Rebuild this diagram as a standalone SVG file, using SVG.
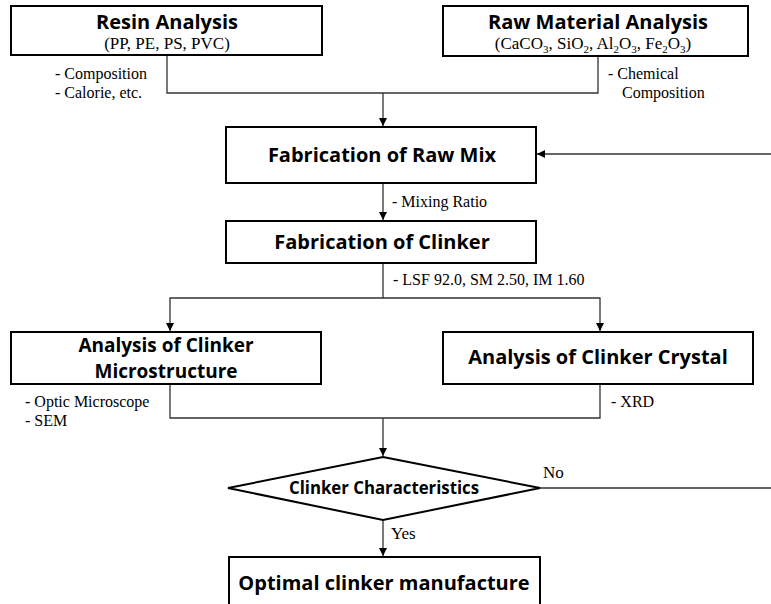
<svg xmlns="http://www.w3.org/2000/svg" width="771" height="604" viewBox="0 0 771 604">
<defs>
<marker id="arr" markerWidth="10" markerHeight="10" refX="9" refY="5" orient="auto" markerUnits="userSpaceOnUse">
<path d="M1,1 L9,5 L1,9 Z" fill="#000"/>
</marker>
<style>
.box{fill:#fff;stroke:#000;stroke-width:2}
.h{font-family:"Open Sans","Noto Sans",sans-serif;font-weight:700;font-size:20px;fill:#000;text-anchor:middle}
.s{font-family:"Liberation Serif","Times New Roman",serif;font-size:17px;fill:#000;text-anchor:middle}
.t{font-family:"Liberation Serif","Times New Roman",serif;font-size:16px;fill:#000}
.c{stroke:#333;stroke-width:1.3;fill:none}
</style>
</defs>
<rect width="771" height="604" fill="#fff"/>
<g id="connectors">
<path class="c" d="M167,56 V93 H598 V56"/>
<path class="c" d="M383,93 V126" marker-end="url(#arr)"/>
<path class="c" d="M771,154 H537" marker-end="url(#arr)"/>
<path class="c" d="M383,183 V220" marker-end="url(#arr)"/>
<path class="c" d="M383,263 V298 H170 V331" marker-end="url(#arr)"/>
<path class="c" d="M383,298 H600 V331" marker-end="url(#arr)"/>
<path class="c" d="M170,385 V418 H600 V385"/>
<path class="c" d="M383,418 V456" marker-end="url(#arr)"/>
<path class="c" d="M540,488 H771"/>
<path class="c" d="M383,520 V556" marker-end="url(#arr)"/>
<text class="t" x="55" y="79">- Composition</text>
<text class="t" x="55" y="98">- Calorie, etc.</text>
<text class="t" x="608" y="79">- Chemical</text>
<text class="t" x="622" y="98">Composition</text>
<text class="t" x="392" y="207">- Mixing Ratio</text>
<text class="t" x="393" y="285">- LSF 92.0, SM 2.50, IM 1.60</text>
<text class="t" x="25" y="407">- Optic Microscope</text>
<text class="t" x="25" y="426">- SEM</text>
<text class="t" x="611" y="407">- XRD</text>
<text class="t" x="543" y="478" style="font-size:17px">No</text>
<text class="t" x="391" y="539" style="font-size:17px">Yes</text>
</g>
<g id="resin">
<rect class="box" x="11" y="6" width="311" height="49"/>
<text class="h" x="167" y="29">Resin Analysis</text>
<text class="s" x="167" y="49">(PP, PE, PS, PVC)</text>
</g>
<g id="rawmaterial">
<rect class="box" x="443" y="6" width="305" height="50"/>
<text class="h" x="598" y="29">Raw Material Analysis</text>
<text class="s" x="593" y="49">(CaCO<tspan font-size="11" dy="4">3</tspan><tspan dy="-4">, SiO</tspan><tspan font-size="11" dy="4">2</tspan><tspan dy="-4">, Al</tspan><tspan font-size="11" dy="4">2</tspan><tspan dy="-4">O</tspan><tspan font-size="11" dy="4">3</tspan><tspan dy="-4">, Fe</tspan><tspan font-size="11" dy="4">2</tspan><tspan dy="-4">O</tspan><tspan font-size="11" dy="4">3</tspan><tspan dy="-4">)</tspan></text>
</g>
<g id="rawmix">
<rect class="box" x="226" y="127" width="310" height="56"/>
<text class="h" x="382" y="162">Fabrication of Raw Mix</text>
</g>
<g id="clinker">
<rect class="box" x="226" y="221" width="310" height="42"/>
<text class="h" x="382" y="249">Fabrication of Clinker</text>
</g>
<g id="microstructure">
<rect class="box" x="11" y="332" width="310" height="52"/>
<text class="h" x="166" y="352" style="font-size:19px">Analysis of Clinker</text>
<text class="h" x="166" y="378" style="font-size:19px">Microstructure</text>
</g>
<g id="crystal">
<rect class="box" x="443" y="332" width="310" height="52"/>
<text class="h" x="598" y="364">Analysis of Clinker Crystal</text>
</g>
<g id="decision">
<polygon points="383,457 540,488 383,520 228,488" fill="#fff" stroke="#000" stroke-width="2"/>
<text class="h" x="384" y="494" style="font-size:18px" textLength="190" lengthAdjust="spacingAndGlyphs">Clinker Characteristics</text>
</g>
<g id="optimal">
<rect class="box" x="229" y="557" width="311" height="52"/>
<text class="h" x="384" y="590">Optimal clinker manufacture</text>
</g>
</svg>
